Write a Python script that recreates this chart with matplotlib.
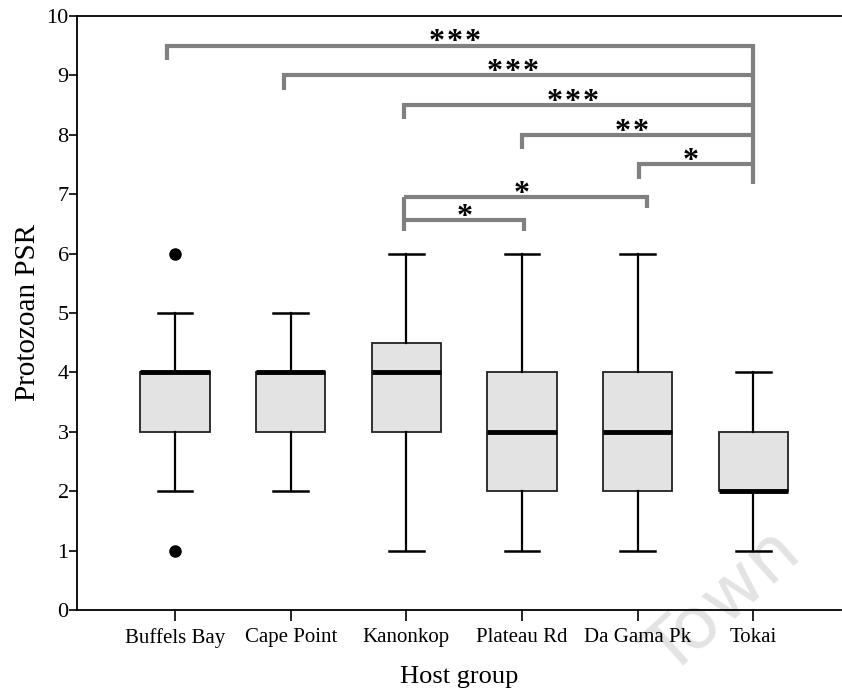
import matplotlib
matplotlib.use("Agg")
import matplotlib.pyplot as plt
from matplotlib.transforms import offset_copy

plt.rcParams['font.family'] = ['Liberation Serif', 'DejaVu Serif']

groups = ["Buffels Bay", "Cape Point", "Kanonkop", "Plateau Rd", "Da Gama Pk", "Tokai"]
whislo = [2, 2, 1, 1, 1, 1]
q1 = [3, 3, 3, 2, 2, 2]
med = [4, 4, 4, 3, 3, 2]
q3 = [4, 4, 4.5, 4, 4, 3]
whishi = [5, 5, 6, 6, 6, 4]
fliers = [[1, 6], [], [], [], [], []]

# significance comparisons: (group i, group j, number of stars)
comparisons = [(0, 5, 3), (1, 5, 3), (2, 5, 3), (3, 5, 2), (4, 5, 1),
               (2, 4, 1), (2, 3, 1)]

fig = plt.figure(figsize=(8.42, 6.9), dpi=100)
ax = fig.add_axes([0.0915, 0.116, 0.9075, 0.861])
ax.set_zorder(1)
ax.patch.set_alpha(0)

stats = []
for i, g in enumerate(groups):
    stats.append(dict(label=g, whislo=whislo[i], q1=q1[i], med=med[i], q3=q3[i],
                      whishi=whishi[i], fliers=fliers[i]))

ax.bxp(stats, positions=range(len(groups)), widths=0.6, patch_artist=True,
       boxprops=dict(facecolor="#e3e3e3", edgecolor="#222222", linewidth=1.3),
       medianprops=dict(color="black", linewidth=3.5, solid_capstyle="butt"),
       whiskerprops=dict(color="black", linewidth=1.6),
       capprops=dict(color="black", linewidth=1.8),
       capwidths=0.3,
       flierprops=dict(marker="o", markerfacecolor="black", markeredgecolor="black",
                       markersize=8))

ax.set_xlim(-0.848, 5.76)
ax.set_ylim(0, 10)
ax.set_yticks(range(0, 11))
ax.set_xticks(range(len(groups)))
ax.set_xticklabels(groups)
ax.tick_params(axis="x", length=8, width=1.2, labelsize=15, pad=5, direction="out")
ax.tick_params(axis="y", length=6, width=1.2, labelsize=16, pad=0, direction="out")
ax.spines["right"].set_visible(False)
for s in ["left", "bottom", "top"]:
    ax.spines[s].set_linewidth(1.3)
ax.set_xlabel("Host group", fontsize=19, labelpad=13)
ax.set_ylabel("Protozoan PSR", fontsize=21, labelpad=4)

gray = "#808080"
lw = 3
star_fs = 23
star_dy = 0.2
star_gap = 18  # pixels between star centres


def stars(xc, y, n):
    for s in range(n):
        off = (s - (n - 1) / 2) * star_gap
        tr = offset_copy(ax.transData, fig=fig, x=off, y=0, units="dots")
        ax.text(xc, y - star_dy, "*", transform=tr, ha="center", va="bottom",
                fontsize=star_fs, fontweight="bold")


# significance brackets (y positions are layout, not data)
bx = {0: -0.07, 1: -0.06, 2: -0.02, 3: 0.0, 4: 0.01, 5: 0.0}
levels = [9.5, 9.0, 8.5, 8.0, 7.5]
for k, (i, j, n) in enumerate(comparisons[:5]):
    y = levels[k]
    x0 = i + bx[i]
    x1 = j
    ax.plot([x0, x0, x1], [y - 0.24, y, y], color=gray, lw=lw, solid_capstyle="butt",
            solid_joinstyle="miter")
    stars((x0 + x1) / 2 - 0.05, y, n)
ax.plot([5, 5], [9.5 + 0.025, 7.17], color=gray, lw=lw, solid_capstyle="butt")

# lower brackets
ax.plot([2 - 0.02, 2 - 0.02], [6.38, 6.95], color=gray, lw=lw, solid_capstyle="butt")
ax.plot([2 - 0.02, 4.08, 4.08], [6.95, 6.95, 6.77], color=gray, lw=lw,
        solid_capstyle="butt", solid_joinstyle="miter")
stars(3.0, 6.95, comparisons[5][2])
ax.plot([2 - 0.02, 3.02, 3.02], [6.57, 6.57, 6.38], color=gray, lw=lw,
        solid_capstyle="butt", solid_joinstyle="miter")
stars(2.5, 6.57, comparisons[6][2])

# watermark
fig.text(0.86, 0.125, "Town", rotation=42, fontsize=52, color="#e3e3e3",
         family="DejaVu Sans", ha="center", va="center", zorder=0)

fig.savefig("out.png", dpi=100)
